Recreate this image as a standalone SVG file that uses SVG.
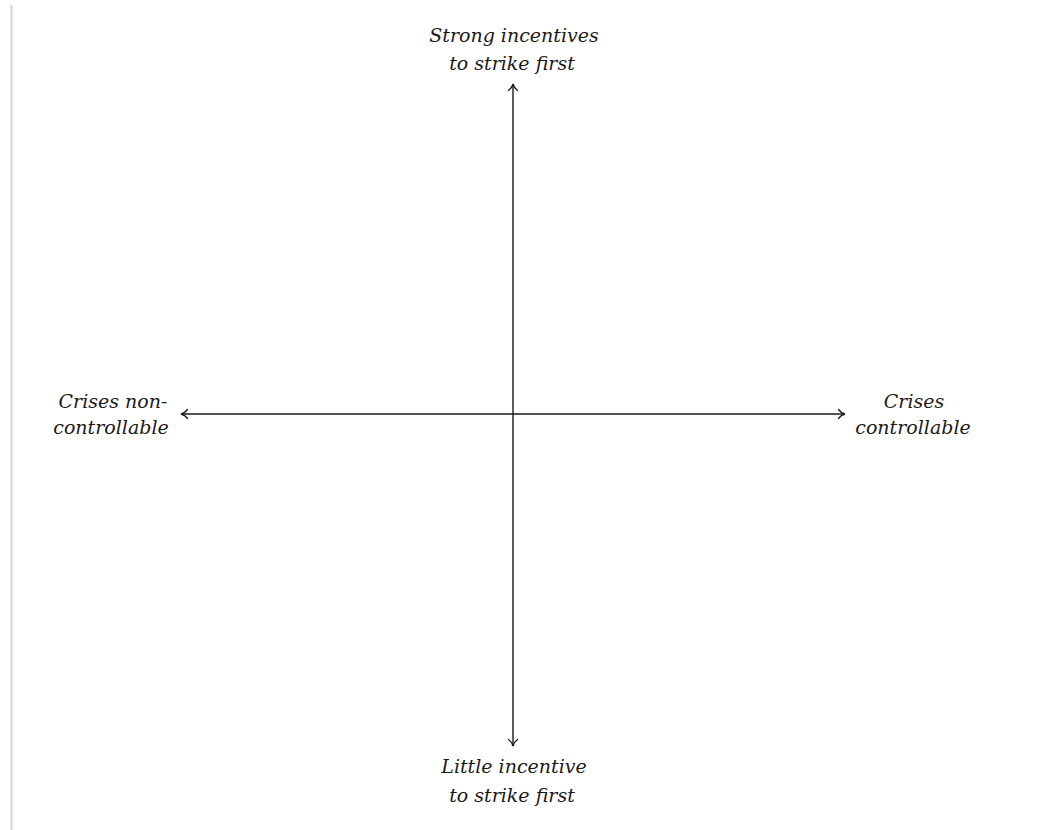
<svg xmlns="http://www.w3.org/2000/svg" width="1045" height="830" viewBox="0 0 1045 830">
  <style>
    .lbl { font-family: "DejaVu Serif", "Liberation Serif", serif; font-style: italic; font-size: 19px; fill: #1a1a1a; text-anchor: middle; }
    .axis { stroke: #1a1a1a; stroke-width: 1.4; fill: none; }
  </style>
  <defs>
    <marker id="arr" markerUnits="userSpaceOnUse" markerWidth="14" markerHeight="14" refX="10" refY="7" orient="auto-start-reverse" viewBox="0 0 14 14">
      <path d="M3.5,2.5 Q6,6 10,7 Q6,8 3.5,11.5" fill="none" stroke="#1a1a1a" stroke-width="1.3" stroke-linecap="round"/>
    </marker>
  </defs>
  <rect width="1045" height="830" fill="#ffffff"/>
  <line x1="11.5" y1="5" x2="11.5" y2="830" stroke="#d4d4d4" stroke-width="2"/>
  <g id="connectors">
    <line class="axis" x1="513" y1="84" x2="513" y2="746" marker-start="url(#arr)" marker-end="url(#arr)"/>
    <line class="axis" x1="181" y1="414" x2="845" y2="414" marker-start="url(#arr)" marker-end="url(#arr)"/>
  </g>
  <g id="top">
    <text class="lbl" x="514" y="42">Strong incentives</text>
    <text class="lbl" x="512" y="70">to strike first</text>
  </g>
  <g id="bottom">
    <text class="lbl" x="514" y="773">Little incentive</text>
    <text class="lbl" x="512" y="802">to strike first</text>
  </g>
  <g id="left">
    <text class="lbl" x="113" y="408">Crises non-</text>
    <text class="lbl" x="111" y="434">controllable</text>
  </g>
  <g id="right">
    <text class="lbl" x="914" y="408">Crises</text>
    <text class="lbl" x="913" y="434">controllable</text>
  </g>
</svg>
